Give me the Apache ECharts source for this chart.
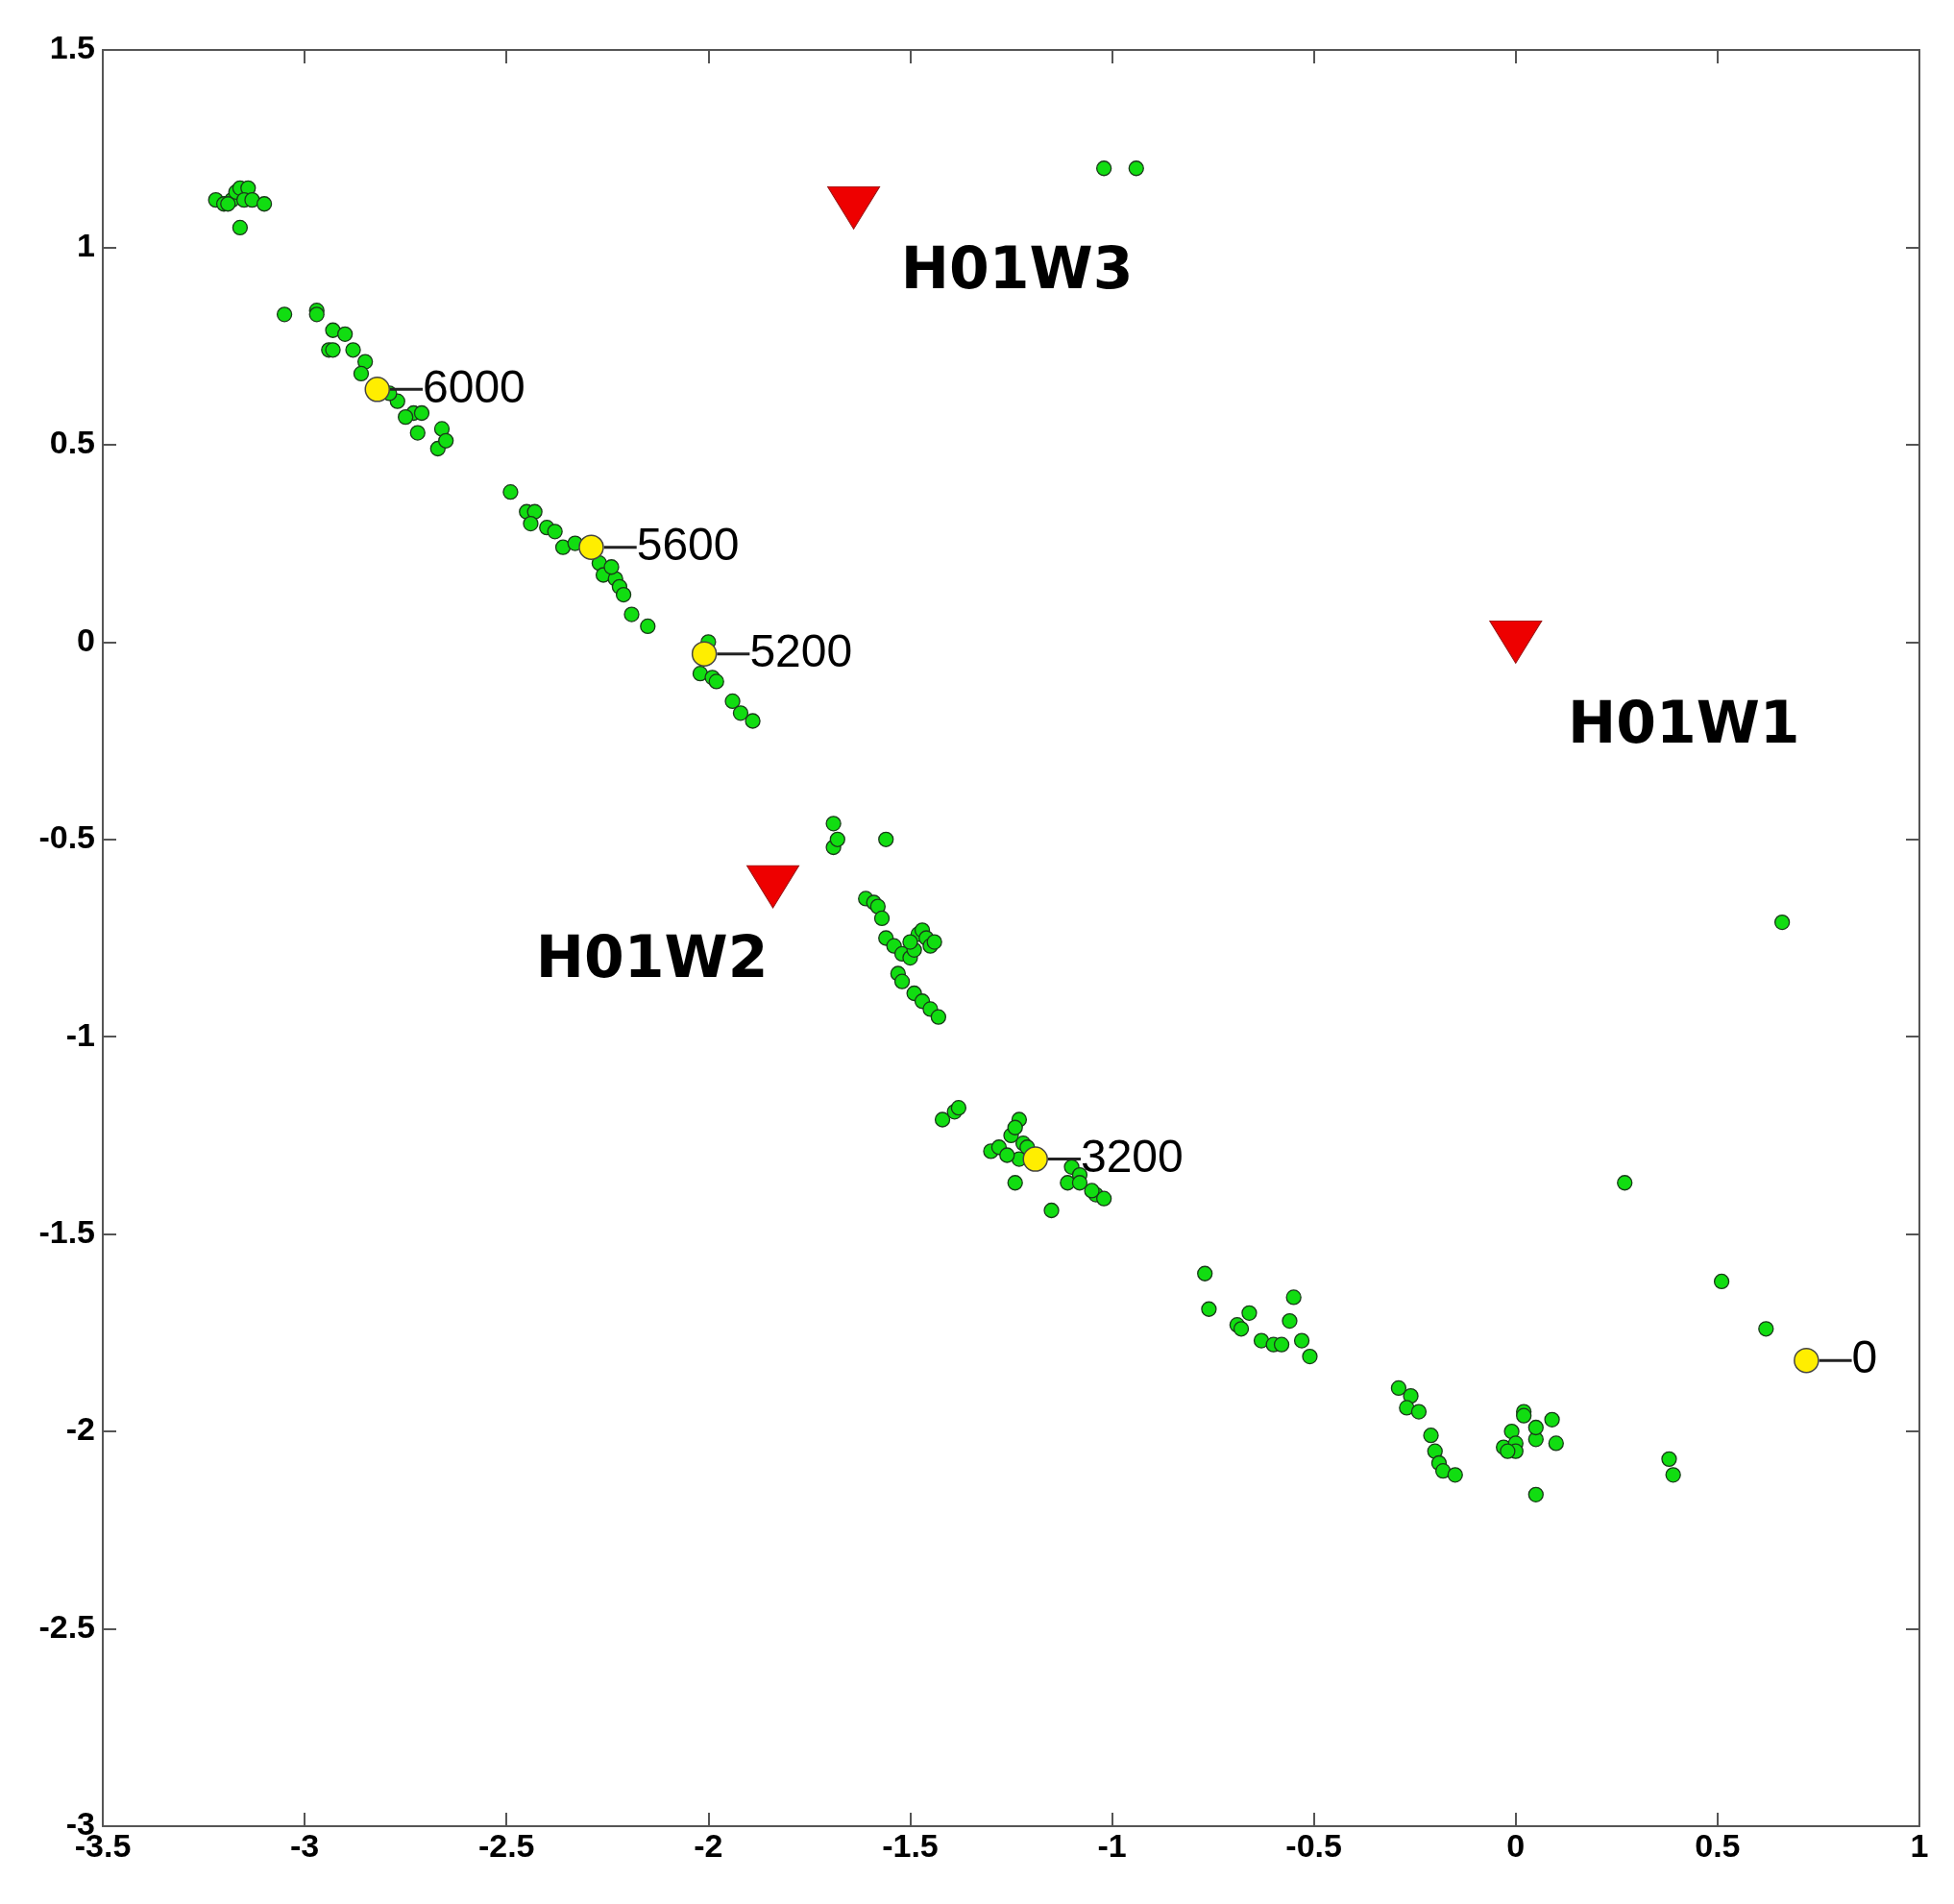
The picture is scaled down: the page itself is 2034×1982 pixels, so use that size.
<!DOCTYPE html>
<html>
<head>
<meta charset="utf-8">
<script src="https://cdn.jsdelivr.net/npm/echarts@6/dist/echarts.min.js"></script>
<style>html,body{margin:0;padding:0;background:#fff}#chart{width:2034px;height:1982px}</style>
</head>
<body>
<div id="chart"></div>
<script>
// sample points (x, y)
const samples = [
  [-3.22,1.12],[-3.2,1.11],[-3.18,1.12],[-3.17,1.14],[-3.16,1.15],[-3.14,1.15],[-3.15,1.12],[-3.13,1.12],[-3.1,1.11],[-3.16,1.05],[-3.19,1.11],
  [-3.05,0.83],[-2.97,0.84],[-2.97,0.83],[-2.93,0.79],[-2.9,0.78],[-2.94,0.74],[-2.93,0.74],[-2.88,0.74],[-2.85,0.71],[-2.86,0.68],[-2.77,0.61],[-2.73,0.58],[-2.75,0.57],[-2.71,0.58],[-2.72,0.53],[-2.67,0.49],[-2.66,0.54],[-2.65,0.51],[-2.79,0.63],
  [-2.49,0.38],[-2.45,0.33],[-2.43,0.33],[-2.44,0.30],[-2.40,0.29],[-2.38,0.28],[-2.36,0.24],[-2.33,0.25],[-2.27,0.2],[-2.26,0.17],[-2.23,0.16],[-2.22,0.14],[-2.21,0.12],[-2.19,0.07],[-2.15,0.04],[-2.24,0.19],
  [-2.0,0.0],[-2.02,-0.08],[-1.99,-0.09],[-1.98,-0.1],[-1.94,-0.15],[-1.92,-0.18],[-1.89,-0.2],
  [-1.69,-0.46],[-1.69,-0.52],[-1.68,-0.5],[-1.56,-0.5],[-1.61,-0.65],[-1.59,-0.66],[-1.58,-0.67],[-1.57,-0.7],[-1.56,-0.75],[-1.54,-0.77],[-1.52,-0.79],[-1.5,-0.8],[-1.49,-0.78],[-1.48,-0.74],[-1.47,-0.73],[-1.46,-0.75],[-1.45,-0.77],[-1.44,-0.76],[-1.53,-0.84],[-1.52,-0.86],[-1.49,-0.89],[-1.47,-0.91],[-1.45,-0.93],[-1.43,-0.95],[-1.5,-0.76],
  [-1.42,-1.21],[-1.39,-1.19],[-1.38,-1.18],[-1.3,-1.29],[-1.28,-1.28],[-1.25,-1.25],[-1.23,-1.21],[-1.24,-1.23],[-1.22,-1.27],[-1.23,-1.31],[-1.26,-1.3],[-1.24,-1.37],[-1.21,-1.28],[-1.15,-1.44],[-1.1,-1.33],[-1.08,-1.35],[-1.11,-1.37],[-1.08,-1.37],[-1.04,-1.4],[-1.02,-1.41],[-1.05,-1.39],
  [-0.77,-1.6],[-0.76,-1.69],[-0.66,-1.7],[-0.69,-1.73],[-0.68,-1.74],[-0.63,-1.77],[-0.6,-1.78],[-0.58,-1.78],[-0.55,-1.66],[-0.56,-1.72],[-0.53,-1.77],[-0.51,-1.81],
  [-0.29,-1.89],[-0.26,-1.91],[-0.27,-1.94],[-0.24,-1.95],[-0.21,-2.01],[-0.2,-2.05],[-0.19,-2.08],[-0.18,-2.1],[-0.15,-2.11],
  [0.02,-1.95],[0.02,-1.96],[-0.03,-2.04],[-0.01,-2.0],[0.0,-2.03],[0.0,-2.05],[0.05,-2.02],[0.05,-1.99],[0.09,-1.97],[0.1,-2.03],[0.05,-2.16],[-0.02,-2.05],
  [0.27,-1.37],[0.38,-2.07],[0.39,-2.11],[0.51,-1.62],[0.62,-1.74],[0.66,-0.71],[-1.02,1.2],[-0.94,1.2]
];
// labelled depth points
const milestones = [[-2.82,0.64],[-2.29,0.24],[-2.01,-0.03],[-1.19,-1.31],[0.72,-1.82]];
const milestoneNames = ['6000','5600','5200','3200','0'];
// wells
const wells = [[-1.64,1.1],[0,0],[-1.84,-0.62]];
const wellNames = ['H01W3','H01W1','H01W2'];
const wellOffsets = [[170,68],[175,89],[-126,78]];

const xTicks = { min: -3.5, max: 1, interval: 0.5 };
const yTicks = { min: -3, max: 1.5, interval: 0.5 };

const axisFont = { color: '#000', fontSize: 34, fontWeight: 'bold', fontFamily: 'Liberation Sans' };
const axisLine = { show: true, onZero: false, lineStyle: { color: '#555', width: 2 } };
const axisTick = { show: true, inside: true, length: 14, lineStyle: { color: '#555', width: 2 } };

const chart = echarts.init(document.getElementById('chart'));
chart.setOption({
  animation: false,
  grid: { left: 107, right: 36, top: 52, bottom: 81 },
  xAxis: [
    Object.assign({ type: 'value', position: 'bottom', axisLine, axisTick, splitLine: { show: false },
      axisLabel: Object.assign({ margin: 6 }, axisFont) }, xTicks),
    Object.assign({ type: 'value', position: 'top', axisLine, axisTick, splitLine: { show: false },
      axisLabel: { show: false } }, xTicks)
  ],
  yAxis: [
    Object.assign({ type: 'value', position: 'left', axisLine, axisTick, splitLine: { show: false },
      axisLabel: Object.assign({ margin: 8 }, axisFont) }, yTicks),
    Object.assign({ type: 'value', position: 'right', axisLine, axisTick, splitLine: { show: false },
      axisLabel: { show: false } }, yTicks)
  ],
  series: [
    {
      type: 'scatter', data: samples, symbolSize: 15,
      itemStyle: { color: '#11dd11', borderColor: '#1a3a1a', borderWidth: 1.3, opacity: 1 }
    },
    {
      type: 'scatter', symbolSize: 25,
      data: milestones.map((p, i) => ({ value: p, name: milestoneNames[i] })),
      itemStyle: { color: '#ffee00', borderColor: '#444', borderWidth: 1.5, opacity: 1 },
      label: {
        show: true, position: 'right', distance: 0,
        formatter: p => '{l|}{t|' + p.name + '}',
        rich: {
          l: { width: 34, height: 3, backgroundColor: '#222' },
          t: { fontSize: 48, color: '#000', fontFamily: 'Liberation Sans' }
        }
      }
    },
    {
      type: 'scatter', symbol: 'triangle', symbolRotate: 180, symbolSize: [54, 44],
      data: wells.map((p, i) => ({ value: p, name: wellNames[i],
        label: { offset: wellOffsets[i] } })),
      itemStyle: { color: '#ee0000', borderColor: '#991111', borderWidth: 1, opacity: 1 },
      label: {
        show: true, position: 'inside', formatter: '{b}',
        fontSize: 60, fontWeight: 'bold', color: '#000', fontFamily: 'DejaVu Sans'
      }
    }
  ]
});
</script>
</body>
</html>
